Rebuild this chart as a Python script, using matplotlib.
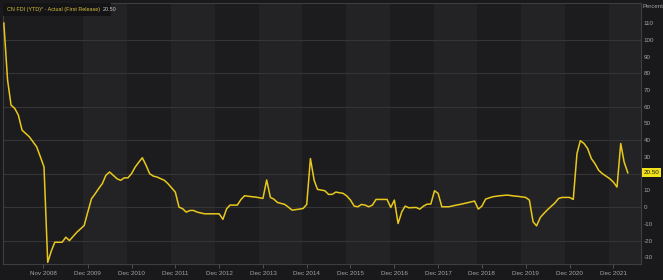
import matplotlib
matplotlib.use('Agg')
import matplotlib.pyplot as plt
import matplotlib.transforms as mtransforms
from matplotlib.patches import Rectangle
import pandas as pd

# CN FDI (YTD) - Actual (First Release), percent, monthly from Jan 2008
fdi_2008 = [110, 76, 61, 59, 55, 46, 44, 42, 39, 36, 30, 24]
fdi_2009 = [-33, -26, -21, -21, -21, -18, -20, -17.5, -15, -13, -11, -3]
fdi_2010 = [5, 8, 11, 14, 19, 21, 19, 17, 16, 17.5, 17.5, 20]
fdi_2011 = [24, 27, 29.5, 25, 20, 18.5, 18, 17, 16, 14, 11.5, 9]
fdi_2012 = [0, -1, -3, -2, -2, -3, -3.5, -4, -4, -4, -4, -4]
fdi_2013 = [-7.3, -1, 1.2, 1.2, 1.2, 4.6, 6.8, 6.5, 6.2, 6, 5.6, 5.2]
fdi_2014 = [16.2, 5.8, 4.8, 2.8, 2.2, 1.6, 0, -1.8, -1.5, -1.2, -0.8, 1.6]
fdi_2015 = [29, 16, 10.6, 10.2, 9.8, 7.6, 7.6, 9, 8.6, 8.2, 6.6, 4.2]
fdi_2016 = [0.6, 0.2, 1.6, 1.2, 0.2, 1.2, 4.6, 4.6, 4.6, 4.6, -0.2, 4.2]
fdi_2017 = [-9.8, -2.8, 0.6, -0.4, -0.3, -0.2, -1.2, 0.6, 1.8, 1.8, 9.8, 8.2]
fdi_2018 = [0.2, 0.2, 0.2, 0.7, 1.2, 1.6, 2.1, 2.6, 3.1, 3.6, -1.2, 0.6]
fdi_2019 = [4.8, 5.5, 6.2, 6.5, 6.8, 7, 7.2, 6.9, 6.6, 6.4, 6.1, 5.8]
fdi_2020 = [4.2, -8.8, -11.2, -6.2, -3.8, -1.5, 0.5, 2.5, 5.2, 5.8, 5.8, 5.8]
fdi_2021 = [4.6, 32, 39.7, 38, 35, 29, 26, 22, 20, 18.5, 17, 15]
fdi_2022 = [12, 38, 27, 20.5]

values = (fdi_2008 + fdi_2009 + fdi_2010 + fdi_2011 + fdi_2012 + fdi_2013 +
          fdi_2014 + fdi_2015 + fdi_2016 + fdi_2017 + fdi_2018 + fdi_2019 +
          fdi_2020 + fdi_2021 + fdi_2022)
dates = pd.date_range('2008-01-01', periods=len(values), freq='MS')

tick_labels = ['Nov 2008', 'Dec 2009', 'Dec 2010', 'Dec 2011', 'Dec 2012',
               'Dec 2013', 'Dec 2014', 'Dec 2015', 'Dec 2016', 'Dec 2017',
               'Dec 2018', 'Dec 2019', 'Dec 2020', 'Dec 2021']
tick_dates = pd.to_datetime(['2008-11-25'] + ['%d-12-01' % y for y in range(2009, 2022)])
band_years = [2009, 2011, 2013, 2015, 2017, 2019, 2021]
y_ticks = list(range(-30, 111, 10))
grid_levels = list(range(-20, 101, 20))
last_label = '20.50'

bg = '#19191b'
plot_bg = '#1c1c1e'
band_col = '#232325'
grid_col = '#353537'
line_col = '#e8c81c'
text_col = '#a4a4a4'
fs = 4.5

plt.rcParams['font.family'] = ['Liberation Sans', 'DejaVu Sans']

fig = plt.figure(figsize=(6.63, 2.8), dpi=100, facecolor=bg)
ax = fig.add_axes([3 / 663, 1 - 264 / 280, 638 / 663, 261 / 280])
ax.set_facecolor(plot_bg)

# alternating year bands
for y in band_years:
    ax.axvspan(pd.Timestamp('%d-10-25' % y), pd.Timestamp('%d-10-25' % (y + 1)),
               color=band_col, lw=0, zorder=0)

for g in grid_levels:
    ax.axhline(g, color=grid_col, lw=0.8, zorder=1)

ax.plot(dates, values, color=line_col, lw=1.1, zorder=3)

ax.set_xlim(pd.Timestamp('2007-12-25'), pd.Timestamp('2022-07-20'))
ax.set_ylim(-34, 122)

ax.set_xticks(tick_dates)
ax.set_xticklabels(tick_labels)
ax.yaxis.tick_right()
ax.set_yticks(y_ticks)
# the "20" label sits under the last-value tag, as in the original
ax.set_yticklabels(['' if v == 20 else str(v) for v in y_ticks])
ax.tick_params(axis='x', colors='#5a5a5a', labelcolor=text_col, labelsize=fs,
               length=3, width=0.6, pad=2)
ax.tick_params(axis='y', colors=text_col, labelsize=fs, length=0, pad=2)

for s in ax.spines.values():
    s.set_color('#3e3e40')
    s.set_linewidth(0.8)

ax.text(1.003, 0.995, 'Percent', transform=ax.transAxes, color=text_col,
        fontsize=4.3, ha='left', va='top')

# last value tag
trans = mtransforms.blended_transform_factory(ax.transAxes, ax.transData)
ax.text(1.004, values[-1], last_label, transform=trans, color='#1a1a1a',
        fontsize=fs, ha='left', va='center', zorder=5,
        bbox=dict(boxstyle='square,pad=0.3', fc='#f2e21a', ec='none'))

# series label box in the top-left corner
ax.add_patch(Rectangle((0, 1 - 13 / 261), 108 / 638, 13 / 261, transform=ax.transAxes,
                       fc='#141416', ec='none', zorder=6))
name = ax.text(4 / 638, 1 - 6.5 / 261, 'CN FDI (YTD)* - Actual (First Release)',
               transform=ax.transAxes, color='#d9c23a', fontsize=3.9, ha='left',
               va='center', zorder=7)
ax.annotate(last_label, xy=(1, 0.5), xycoords=name, xytext=(3, 0),
            textcoords='offset pixels', color='#c8c8c8', fontsize=3.9,
            ha='left', va='center', zorder=7)

fig.savefig('out.png', dpi=100, facecolor=bg)
